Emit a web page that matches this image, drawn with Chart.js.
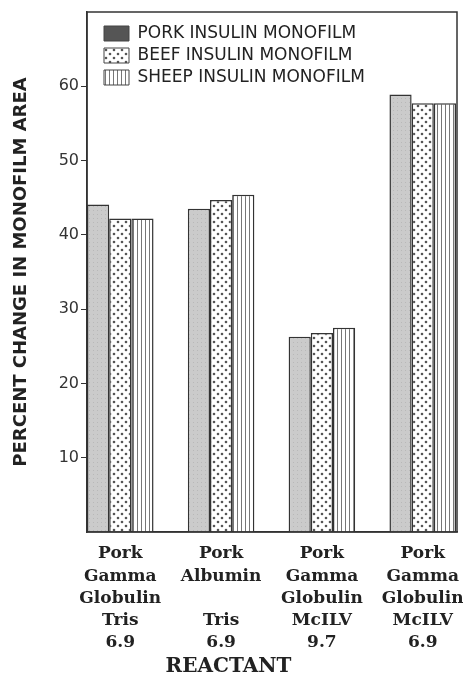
<!DOCTYPE html>
<html>
<head>
<meta charset="utf-8">
<script src="https://cdn.jsdelivr.net/npm/chart.js@4"></script>
<style>
  html, body { margin: 0; background: #fff; }
  #wrap { width: 463px; height: 677px; }
</style>
</head>
<body>
<div id="wrap"><canvas id="myChart"></canvas></div>
<script>
"use strict";

// Reactant groups (tick labels, one line per entry)
const reactants = [
  ["Pork", "Gamma", "Globulin", "Tris", "6.9"],
  ["Pork", "Albumin", "", "Tris", "6.9"],
  ["Pork", "Gamma", "Globulin", "McILV", "9.7"],
  ["Pork", "Gamma", "Globulin", "McILV", "6.9"]
];
const seriesNames = ["PORK INSULIN MONOFILM", "BEEF INSULIN MONOFILM", "SHEEP INSULIN MONOFILM"];
const porkValues = [44.1, 43.5, 26.3, 58.9];
const beefValues = [42.2, 44.7, 26.8, 57.7];
const sheepValues = [42.2, 45.4, 27.5, 57.7];
const yTicks = [10, 20, 30, 40, 50, 60];

const INK = "#222";

// Fill patterns like the printed figure
function makePattern(w, h, paint) {
  const c = document.createElement("canvas");
  c.width = w; c.height = h;
  const g = c.getContext("2d");
  paint(g);
  return g.createPattern(c, "repeat");
}
const porkFill = makePattern(4, 4, g => {
  g.fillStyle = "#cbcbcb"; g.fillRect(0, 0, 4, 4);
  g.fillStyle = "#b8b8b8"; g.fillRect(1, 2, 1, 1);
});
const beefFill = makePattern(8, 8, g => {
  g.fillStyle = "#fff"; g.fillRect(0, 0, 8, 8);
  g.fillStyle = "#555";
  g.beginPath(); g.arc(2, 2, 1.3, 0, Math.PI * 2); g.fill();
  g.beginPath(); g.arc(6, 6, 1.3, 0, Math.PI * 2); g.fill();
});
const sheepFill = makePattern(4, 4, g => {
  g.fillStyle = "#fff"; g.fillRect(0, 0, 4, 4);
  g.fillStyle = "#777"; g.fillRect(1, 0, 1, 4);
});

const toPoints = vals => vals.map((v, i) => ({ x: i, y: v }));

// box round the plot area, legend nudged inside it
const frame = {
  id: "frame",
  beforeDraw(chart) {
    const a = chart.chartArea;
    chart.legend.top = a.top + 8;
    chart.legend.left = a.left + 12;
  },
  afterDatasetsDraw(chart) {
    const a = chart.chartArea, ctx = chart.ctx;
    ctx.save();
    ctx.strokeStyle = "#333";
    ctx.lineWidth = 1.5;
    ctx.strokeRect(a.left, a.top, a.right - a.left, a.bottom - a.top);
    ctx.restore();
  }
};

const data = {
  datasets: [
    { label: seriesNames[0], data: toPoints(porkValues), backgroundColor: porkFill },
    { label: seriesNames[1], data: toPoints(beefValues), backgroundColor: beefFill },
    { label: seriesNames[2], data: toPoints(sheepValues), backgroundColor: sheepFill }
  ]
};

const config = {
  type: "bar",
  data: data,
  options: {
    responsive: true,
    maintainAspectRatio: false,
    animation: false,
    layout: { padding: { top: 12, right: 6, bottom: 0, left: 0 } },
    datasets: {
      bar: {
        borderColor: "#333",
        borderWidth: 1.5,
        borderSkipped: "start",
        categoryPercentage: 0.66,
        barPercentage: 1
      }
    },
    plugins: {
      legend: {
        position: "chartArea",
        align: "start",
        labels: {
          boxWidth: 25,
          boxHeight: 15,
          padding: 5,
          color: INK,
          font: { family: "DejaVu Sans", size: 17 },
          generateLabels: chart => {
            const items = Chart.defaults.plugins.legend.labels.generateLabels(chart);
            items[0].fillStyle = "#555";
            items.forEach(it => { it.strokeStyle = "#444"; it.lineWidth = 1; });
            return items;
          }
        }
      },
      title: {
        display: true,
        position: "bottom",
        text: "REACTANT",
        color: INK,
        font: { family: "DejaVu Serif", size: 20, weight: "bold", lineHeight: 1 },
        padding: 0
      },
      tooltip: { enabled: false }
    },
    scales: {
      x: {
        type: "linear",
        offset: false,
        min: -0.33,
        max: 3.34,
        afterFit: scale => {
          scale.height = 125;
          scale.paddingLeft = 0;
          scale.paddingRight = 0;
        },
        grid: { display: false, offset: false },
        border: { display: true, color: "#333", width: 1.5 },
        ticks: {
          stepSize: 1,
          includeBounds: false,
          autoSkip: false,
          maxRotation: 0,
          padding: 3,
          color: INK,
          font: { family: "DejaVu Serif", size: 17, weight: "bold", lineHeight: 1.3 },
          callback: value => Number.isInteger(value) ? reactants[value] : ""
        }
      },
      y: {
        min: 0,
        max: 70,
        afterFit: scale => { scale.width = 87; },
        border: { display: true, color: "#333", width: 1.5 },
        grid: {
          drawOnChartArea: false,
          tickLength: 6,
          color: ctx => yTicks.includes(ctx.tick && ctx.tick.value) ? "#333" : "rgba(0,0,0,0)"
        },
        ticks: {
          stepSize: 10,
          padding: 2,
          color: "#333",
          font: { family: "DejaVu Sans", size: 16 },
          callback: value => yTicks.includes(value) ? value : ""
        },
        title: {
          display: true,
          text: "PERCENT CHANGE IN MONOFILM AREA",
          color: INK,
          font: { family: "DejaVu Sans", size: 18, weight: "bold" },
          padding: { top: 11, bottom: 0 }
        }
      }
    }
  },
  plugins: [frame]
};

const myChart = new Chart(document.getElementById("myChart"), config);
</script>
</body>
</html>
